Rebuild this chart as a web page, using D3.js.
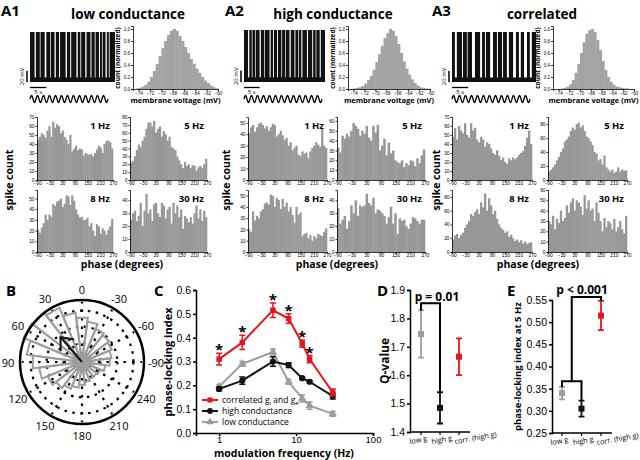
<!DOCTYPE html>
<meta charset="utf-8">
<style>
  body { margin: 0; background: #fff; }
  svg { font-family: "Open Sans", sans-serif; }
  .tag { font-weight: bold; font-size: 15px; }
  .ttl { font-weight: bold; font-size: 13.5px; }
  .blab { font-weight: bold; }
</style>
<body>
<svg id="fig" width="640" height="460"></svg>
<script src="https://cdn.jsdelivr.net/npm/d3@7/dist/d3.min.js"></script>
<script>
// ---------------- data ----------------
var traceDur = 26, stimCycles = 13;
var gapsA1 = [[1.4,0.4],[3.0,0.2],[4.5,0.5],[6.2,0.2],[7.5,0.4],[8.9,0.3],[10.9,0.4],[12.3,0.3],[14.2,0.4],[15.4,0.25],[16.9,0.4],[18.5,0.3],[19.8,0.25],[21.1,0.3],[22.0,0.2],[23.1,0.4],[24.1,0.25]];
var gapsA2 = [[1.3,0.4],[2.5,0.2],[3.6,0.15],[5.0,0.4],[6.5,0.15],[8.2,0.35],[9.3,0.3],[10.6,0.3],[12.0,0.15],[13.2,0.15],[14.6,0.4],[16.2,0.3],[17.4,0.15],[18.4,0.35],[20.2,0.35],[21.9,0.3],[23.0,0.15],[24.3,0.35]];
var gapsA3 = [[0.9,0.6],[3.1,0.3],[4.6,0.2],[6.2,0.9],[8.7,0.6],[10.2,0.3],[11.8,0.9],[13.9,0.3],[15.5,0.3],[17.0,0.6],[18.9,0.9],[20.7,0.6],[22.3,0.9],[24.1,0.6]];

var voltTicks = [-74,-72,-70,-68,-66,-64,-62,-60];
var vmA1 = [0,0.01,0.02,0.04,0.07,0.12,0.2,0.3,0.42,0.55,0.68,0.8,0.9,0.97,1.0,0.97,0.88,0.8,0.7,0.6,0.5,0.42,0.34,0.27,0.2,0.14,0.1,0.06,0.03,0.01];
var vmA2 = [0,0,0.01,0.02,0.03,0.05,0.09,0.15,0.22,0.32,0.45,0.58,0.72,0.85,0.93,1.0,0.97,0.88,0.75,0.6,0.46,0.34,0.24,0.16,0.1,0.06,0.03,0.02,0.01,0];
var vmA3 = [0,0,0,0.01,0.02,0.04,0.08,0.15,0.27,0.42,0.6,0.78,0.92,0.98,1.0,0.95,0.82,0.65,0.47,0.32,0.2,0.12,0.07,0.04,0.03,0.02,0.01,0.01,0,0];

var phaseTicks = [-90,-30,30,90,150,210,270];
var phA1_1 = [45,48,52,50,47,55,60,48,65,58,62,60,52,55,48,45,40,50,32,35,38,33,35,34,27,30,29,28,29,26,30,34,38,36,30,40,43,44,42,35];
var phA1_5 = [22,24,30,38,45,42,50,55,65,73,73,68,75,60,65,68,55,62,58,50,55,42,40,38,30,25,20,15,23,18,20,15,19,18,12,16,18,15,20,27];
var phA1_8 = [21,18,23,27,35,30,35,33,45,43,47,48,50,42,45,53,52,44,53,48,40,35,32,33,30,30,32,24,27,20,15,26,24,17,22,20,16,21,24,31];
var phA1_30 = [25,30,32,24,28,38,20,32,45,30,33,24,37,38,30,27,38,36,26,33,35,22,38,30,36,27,33,18,28,26,23,27,22,30,36,26,33,24,32,27];
var phA2_1 = [41,46,48,42,46,49,50,48,45,47,43,46,49,48,38,40,43,39,35,37,30,33,26,28,30,22,21,25,23,24,19,25,28,30,33,31,29,45,30,28];
var phA2_5 = [33,28,45,42,47,44,50,58,55,52,45,50,47,55,43,40,55,48,56,30,35,42,25,38,27,30,20,18,17,20,13,17,15,20,19,14,22,17,25,31];
var phA2_8 = [20,18,36,28,32,30,36,38,43,44,42,51,50,40,48,46,38,47,40,44,36,40,33,26,40,33,35,14,16,17,12,15,10,14,12,16,15,14,18,21];
var phA2_30 = [34,22,25,28,18,24,36,30,40,28,36,35,36,45,38,36,42,30,33,32,30,28,22,27,35,22,30,14,26,24,25,20,18,22,27,26,24,22,25,25];
var phA3_1 = [48,58,45,60,55,52,63,50,47,63,55,58,45,42,48,45,37,42,40,35,30,28,33,27,22,25,20,18,24,22,25,23,25,28,30,32,38,47,55,40];
var phA3_5 = [12,15,18,22,28,33,40,45,55,58,62,70,75,72,80,82,75,78,70,62,60,55,50,40,38,28,30,22,35,18,15,12,15,10,12,18,12,15,13,14];
var phA3_8 = [18,24,26,20,25,28,35,40,45,55,52,58,62,55,72,65,85,60,78,68,55,60,48,40,35,32,28,30,22,25,20,16,18,14,17,12,15,12,13,14];
var phA3_30 = [30,27,35,22,32,28,40,30,33,45,38,48,52,40,50,48,44,36,55,42,50,40,42,30,48,38,30,20,33,24,30,28,22,32,20,24,30,22,18,35];

var roseAngles = [0,15,30,45,60,75,90,105,120,135,150,165,180,195,210,225,240,255,270,285,300,315,330,345];
var roseVals = [0.72,0.8,0.95,1.0,1.02,0.9,0.8,0.7,0.6,0.53,0.47,0.42,0.37,0.33,0.3,0.3,0.32,0.38,0.45,0.48,0.52,0.55,0.58,0.66];
var arrowAngle = 41, arrowLen = 0.53;
var polarTicks = [0,30,60,90,120,150,180,210,240,270,300,330];

var freqs = [1,2,5,8,12,15,30];
var plvCorr = [0.31,0.38,0.515,0.48,0.375,0.31,0.17];
var plvCorrErr = [0.025,0.03,0.03,0.02,0.015,0.015,0.015];
var plvHigh = [0.185,0.22,0.30,0.285,0.23,0.215,0.155];
var plvHighErr = [0.008,0.015,0.02,0.01,0.005,0.005,0.012];
var plvLow = [0.195,0.29,0.34,0.215,0.145,0.115,0.08];
var plvLowErr = [0.008,0.01,0.012,0.01,0.015,0.015,0.01];
var starFreqs = [1,2,5,8,12,15];

var groups = ["low g","high g","corr. (high g)"];
var qVals = [1.745,1.485,1.665];
var qErr = [0.083,0.055,0.065];
var plv5Vals = [0.34,0.305,0.515];
var plv5Err = [0.014,0.018,0.033];

// ---------------- drawing ----------------
var svg = d3.select("#fig");
var red = "#e3161d", gray = "#9d9d9d", barGray = "#979797";

function styleAxis(g, fs, sw) {
  g.selectAll("text").style("font-size", fs + "px").attr("fill", "#000");
  g.selectAll("path,line").attr("stroke", "#000").attr("stroke-width", sw);
}

function trace(x0, x1, yTop, gaps) {
  var x = d3.scaleLinear().domain([0, traceDur]).range([x0, x1]);
  var y = d3.scaleLinear().domain([-70, 30]).range([82, yTop]);
  var g = svg.append("g");
  g.append("rect").attr("x", x0).attr("y", y(30)).attr("width", x1 - x0)
    .attr("height", y(-70) - y(30)).attr("fill", "#111");
  g.selectAll(".gap").data(gaps).join("rect").attr("class", "gap")
    .attr("x", d => x(d[0])).attr("y", y(30) - 1)
    .attr("width", d => Math.max(0.7, x(d[0] + d[1]) - x(d[0])))
    .attr("height", y(-61) - y(30) + 1).attr("fill", "#fff");
  g.append("line").attr("x1", x0 - 3).attr("x2", x0 - 3).attr("y1", y(-70)).attr("y2", y(-48))
    .attr("stroke", "#000").attr("stroke-width", 1.5);
  g.append("text").attr("transform", "translate(" + (x0 - 6) + "," + y(-59) + ") rotate(-90)")
    .attr("text-anchor", "middle").style("font-size", "6px").text("20 mV");
  g.append("line").attr("x1", x(0)).attr("x2", x(5)).attr("y1", 87.5).attr("y2", 87.5)
    .attr("stroke", "#000").attr("stroke-width", 1.3);
  g.append("text").attr("x", x(2.5)).attr("y", 93.5).attr("text-anchor", "middle")
    .style("font-size", "6px").text("5 s");
  var sx = d3.scaleLinear().domain([0, stimCycles]).range([x0, x0 + 78]);
  g.append("path")
    .attr("d", d3.line().x(c => sx(c)).y(c => 99 - 3.5 * Math.sin(2 * Math.PI * c))(d3.range(0, stimCycles + 0.001, 0.05)))
    .attr("fill", "none").attr("stroke", "#000").attr("stroke-width", 1.3);
}

function vmHist(x0, x1, vals) {
  var x = d3.scaleLinear().domain([-75, -60]).range([x0, x1]);
  var y = d3.scaleLinear().domain([0, 1.05]).range([89, 26]);
  var w = 15 / vals.length;
  var g = svg.append("g");
  g.selectAll("rect").data(vals).join("rect")
    .attr("x", (d, i) => x(-75 + i * w)).attr("width", x(w) - x(0) + 0.4)
    .attr("y", d => y(d)).attr("height", d => y(0) - y(d)).attr("fill", "#a3a3a3");
  var ax = g.append("g").attr("transform", "translate(0,89)")
    .call(d3.axisBottom(x).tickValues(voltTicks).tickSize(2).tickPadding(0.5));
  styleAxis(ax, 4.5, 0.8);
  var ay = g.append("g").attr("transform", "translate(" + x0 + ",0)")
    .call(d3.axisLeft(y).tickValues([0, 0.2, 0.4, 0.6, 0.8, 1]).tickFormat(d3.format(".1f")).tickSize(2).tickPadding(1));
  styleAxis(ay, 4.5, 0.8);
  g.append("text").attr("x", (x0 + x1) / 2).attr("y", 102.5).attr("text-anchor", "middle")
    .attr("class", "blab").style("font-size", "7.5px").text("membrane voltage (mV)");
  g.append("text").attr("transform", "translate(" + (x0 - 13.5) + ",58) rotate(-90)")
    .attr("text-anchor", "middle").attr("class", "blab").style("font-size", "6.5px").text("count (normalized)");
}

function phaseHist(x0, x1, y0, y1, vals, ymax, step, label) {
  var x = d3.scaleLinear().domain([-90, 270]).range([x0, x1]);
  var y = d3.scaleLinear().domain([0, ymax]).range([y1, y0]);
  var w = 360 / vals.length;
  var g = svg.append("g");
  g.selectAll("rect").data(vals).join("rect")
    .attr("x", (d, i) => x(-90 + i * w)).attr("width", x(w) - x(0) + 0.3)
    .attr("y", d => y(d)).attr("height", d => y(0) - y(d)).attr("fill", barGray);
  var ax = g.append("g").attr("transform", "translate(0," + y1 + ")")
    .call(d3.axisBottom(x).tickValues(phaseTicks).tickSize(1.5).tickPadding(0.5));
  styleAxis(ax, 4.8, 0.8);
  var ay = g.append("g").attr("transform", "translate(" + x0 + ",0)")
    .call(d3.axisLeft(y).tickValues(d3.range(0, ymax + 0.01, step)).tickSize(1.5).tickPadding(1));
  styleAxis(ay, 4.8, 0.8);
  g.append("text").attr("x", x1 - 3).attr("y", y0 + 12).attr("text-anchor", "end")
    .attr("class", "blab").style("font-size", "9.5px").text(label);
}

var topPanels = [
  {tag: "A1", tagX: 1, title: "low conductance", titleX: 128, trace: [30, 115], yTop: 32, gaps: gapsA1, hist: [133, 218], vm: vmA1,
   left: [37, 113], right: [130, 207], ylabX: 13, xlabX: 122,
   hists: [[phA1_1, 70, 10, "1 Hz"], [phA1_5, 80, 10, "5 Hz"], [phA1_8, 58, 10, "8 Hz"], [phA1_30, 48, 10, "30 Hz"]]},
  {tag: "A2", tagX: 225, title: "high conductance", titleX: 333, trace: [244, 325], yTop: 30, gaps: gapsA2, hist: [348, 430], vm: vmA2,
   left: [248, 327], right: [337, 425], ylabX: 230, xlabX: 337,
   hists: [[phA2_1, 55, 10, "1 Hz"], [phA2_5, 64, 10, "5 Hz"], [phA2_8, 55, 10, "8 Hz"], [phA2_30, 48, 10, "30 Hz"]]},
  {tag: "A3", tagX: 432, title: "correlated", titleX: 542, trace: [452, 536], yTop: 32, gaps: gapsA3, hist: [553, 634], vm: vmA3,
   left: [452, 532], right: [548, 627], ylabX: 440, xlabX: 538,
   hists: [[phA3_1, 70, 10, "1 Hz"], [phA3_5, 90, 20, "5 Hz"], [phA3_8, 90, 20, "8 Hz"], [phA3_30, 60, 10, "30 Hz"]]}
];
var rowUp = [117, 180], rowDn = [190, 252];

topPanels.forEach(function (p) {
  svg.append("text").attr("class", "tag").attr("x", p.tagX).attr("y", 16).text(p.tag);
  svg.append("text").attr("class", "ttl").attr("x", p.titleX).attr("y", 19).attr("text-anchor", "middle").text(p.title);
  trace(p.trace[0], p.trace[1], p.yTop, p.gaps);
  vmHist(p.hist[0], p.hist[1], p.vm);
  var slots = [[p.left, rowUp], [p.right, rowUp], [p.left, rowDn], [p.right, rowDn]];
  p.hists.forEach(function (h, i) {
    var s = slots[i];
    phaseHist(s[0][0], s[0][1], s[1][0], s[1][1], h[0], h[1], h[2], h[3]);
  });
  svg.append("text").attr("transform", "translate(" + p.ylabX + ",180) rotate(-90)")
    .attr("text-anchor", "middle").attr("class", "blab").style("font-size", "10.5px").text("spike count");
  svg.append("text").attr("x", p.xlabX).attr("y", 268).attr("text-anchor", "middle")
    .attr("class", "blab").style("font-size", "10.5px").text("phase (degrees)");
});

// ---------------- B: polar ----------------
var bcx = 82, bcy = 362, bR = 62;
var rr = d3.scaleLinear().domain([0, 1]).range([0, bR]);
function polar(deg, r) { var a = deg * Math.PI / 180; return [bcx - r * Math.sin(a), bcy - r * Math.cos(a)]; }
var gB = svg.append("g");
[0.3, 0.57, 0.83].forEach(function (f) {
  gB.append("circle").attr("cx", bcx).attr("cy", bcy).attr("r", rr(f)).attr("fill", "none")
    .attr("stroke", "#000").attr("stroke-width", 2.2).attr("stroke-dasharray", "2.5,5.5");
});
gB.selectAll(".spoke").data(polarTicks).join("line").attr("class", "spoke")
  .attr("x1", d => polar(d, rr(0.12))[0]).attr("y1", d => polar(d, rr(0.12))[1])
  .attr("x2", d => polar(d, rr(0.97))[0]).attr("y2", d => polar(d, rr(0.97))[1])
  .attr("stroke", "#000").attr("stroke-width", 2.2).attr("stroke-dasharray", "2.5,6");
gB.selectAll(".rose").data(roseAngles).join("path").attr("class", "rose")
  .attr("d", (d, i) => "M" + bcx + "," + bcy + "L" + polar(d - 7.5, rr(roseVals[i])) + "L" + polar(d + 7.5, rr(roseVals[i])) + "Z")
  .attr("fill", "none").attr("stroke", gray).attr("stroke-width", 2).attr("stroke-linejoin", "miter");
gB.append("circle").attr("cx", bcx).attr("cy", bcy).attr("r", bR).attr("fill", "none")
  .attr("stroke", "#000").attr("stroke-width", 2.5);
var tip = polar(arrowAngle, rr(arrowLen));
gB.append("line").attr("x1", bcx).attr("y1", bcy).attr("x2", tip[0]).attr("y2", tip[1])
  .attr("stroke", "#111").attr("stroke-width", 2);
var h1 = polar(arrowAngle - 22, rr(arrowLen) - 9), h2 = polar(arrowAngle + 22, rr(arrowLen) - 9);
gB.append("path").attr("d", "M" + h1 + "L" + tip + "L" + h2).attr("fill", "none")
  .attr("stroke", "#111").attr("stroke-width", 2);
gB.selectAll(".plab").data(polarTicks).join("text").attr("class", "plab")
  .attr("x", d => polar(d, bR + 12)[0]).attr("y", d => polar(d, bR + 11)[1])
  .attr("text-anchor", "middle").attr("dominant-baseline", "central").style("font-size", "11px")
  .text(d => d > 240 ? d - 360 : d);

// ---------------- C: phase locking vs frequency ----------------
var cx = d3.scaleLog().domain([0.5, 100]).range([196, 373]);
var cy = d3.scaleLinear().domain([0, 0.6]).range([433, 290]);
var gC = svg.append("g");
var cax = gC.append("g").attr("transform", "translate(0,433)")
  .call(d3.axisBottom(cx).tickValues([1, 10, 100]).tickFormat(d3.format("d")).tickSize(3).tickPadding(0));
styleAxis(cax, 9.5, 1.5);
var cay = gC.append("g").attr("transform", "translate(196,0)")
  .call(d3.axisLeft(cy).tickValues([0, 0.1, 0.2, 0.3, 0.4, 0.5, 0.6]).tickFormat(d3.format(".1f")).tickSize(3).tickPadding(2));
styleAxis(cay, 10.5, 1.5);

function series(vals, errs, color, shape) {
  var g = gC.append("g");
  g.append("path").attr("d", d3.line().x((d, i) => cx(freqs[i])).y(d => cy(d))(vals))
    .attr("fill", "none").attr("stroke", color).attr("stroke-width", 2);
  vals.forEach(function (v, i) {
    var x = cx(freqs[i]);
    g.append("path").attr("d", "M" + x + "," + cy(v - errs[i]) + "V" + cy(v + errs[i]) +
      "M" + (x - 3) + "," + cy(v - errs[i]) + "h6M" + (x - 3) + "," + cy(v + errs[i]) + "h6")
      .attr("stroke", color).attr("stroke-width", 1.5).attr("fill", "none");
  });
  g.selectAll(".mk").data(vals).join("path").attr("class", "mk")
    .attr("transform", (d, i) => "translate(" + cx(freqs[i]) + "," + cy(d) + ")")
    .attr("d", d3.symbol().type(shape).size(30)).attr("fill", color);
}
series(plvLow, plvLowErr, gray, d3.symbolTriangle);
series(plvHigh, plvHighErr, "#111", d3.symbolCircle);
series(plvCorr, plvCorrErr, red, d3.symbolSquare);
gC.selectAll(".star").data(starFreqs).join("text").attr("class", "star")
  .attr("x", d => cx(d)).attr("y", d => cy(plvCorr[freqs.indexOf(d)] + plvCorrErr[freqs.indexOf(d)]) + 2)
  .attr("text-anchor", "middle").style("font-size", "15px").style("font-weight", "bold").text("*");

var legend = [
  {color: red, shape: d3.symbolSquare, y: 400},
  {color: "#111", shape: d3.symbolCircle, y: 411, text: "high conductance"},
  {color: gray, shape: d3.symbolTriangle, y: 422, text: "low conductance"}
];
legend.forEach(function (l) {
  gC.append("line").attr("x1", 202).attr("x2", 218).attr("y1", l.y).attr("y2", l.y)
    .attr("stroke", l.color).attr("stroke-width", 2);
  gC.append("path").attr("transform", "translate(210," + l.y + ")").attr("d", d3.symbol().type(l.shape).size(26)).attr("fill", l.color);
  var t = gC.append("text").attr("x", 222).attr("y", l.y + 3).style("font-size", "8.5px");
  if (l.text) t.text(l.text);
  else {
    t.append("tspan").text("correlated g");
    t.append("tspan").attr("dy", 2).style("font-size", "6px").text("i");
    t.append("tspan").attr("dy", -2).text(" and g");
    t.append("tspan").attr("dy", 2).style("font-size", "6px").text("e");
  }
});
gC.append("text").attr("transform", "translate(172,362) rotate(-90)").attr("text-anchor", "middle")
  .attr("class", "blab").style("font-size", "11px").text("phase-locking index");
gC.append("text").attr("x", 284).attr("y", 457).attr("text-anchor", "middle")
  .attr("class", "blab").style("font-size", "10.5px").text("modulation frequency (Hz)");

// ---------------- D and E: group comparisons ----------------
var groupColors = [gray, "#111", red];
var labShift = [-11, -8, -4];
function groupPanel(xr, axisX, yScale, yTicks, fmt, vals, errs, ylab, ylabX, fs) {
  var x = d3.scalePoint().domain(groups).range(xr);
  var g = svg.append("g");
  var ay = g.append("g").attr("transform", "translate(" + axisX + ",0)")
    .call(d3.axisLeft(yScale).tickValues(yTicks).tickFormat(d3.format(fmt)).tickSize(3).tickPadding(2));
  styleAxis(ay, 10.5, 1.5);
  var y0 = yScale.range()[0];
  g.append("line").attr("x1", axisX).attr("x2", xr[1] + 11).attr("y1", y0).attr("y2", y0)
    .attr("stroke", "#000").attr("stroke-width", 1.5);
  groups.forEach(function (grp, i) {
    var xx = x(grp), c = groupColors[i];
    g.append("line").attr("x1", xx).attr("x2", xx).attr("y1", y0).attr("y2", y0 + 3).attr("stroke", "#000").attr("stroke-width", 1.2);
    g.append("path").attr("d", "M" + xx + "," + yScale(vals[i] - errs[i]) + "V" + yScale(vals[i] + errs[i]) +
      "M" + (xx - 3) + "," + yScale(vals[i] - errs[i]) + "h6M" + (xx - 3) + "," + yScale(vals[i] + errs[i]) + "h6")
      .attr("stroke", c).attr("stroke-width", 1.8).attr("fill", "none");
    g.append("rect").attr("x", xx - 3).attr("y", yScale(vals[i]) - 3).attr("width", 6).attr("height", 6).attr("fill", c);
    g.append("text").attr("transform", "translate(" + (xx + labShift[i]) + "," + (y0 + 12) + ") rotate(-10)")
      .style("font-size", "7.3px").text(grp);
  });
  g.append("text").attr("transform", "translate(" + ylabX + "," + (yScale.range()[0] + yScale.range()[1]) / 2 + ") rotate(-90)")
    .attr("text-anchor", "middle").attr("class", "blab").style("font-size", fs + "px").text(ylab);
  return {g: g, x: x};
}

var dy = d3.scaleLinear().domain([1.4, 1.9]).range([432, 290]);
var D = groupPanel([421, 459], 410, dy, [1.4, 1.5, 1.6, 1.7, 1.8, 1.9], ".1f", qVals, qErr, "Q-value", 389, 12);
var dl = D.x(groups[0]), dh = D.x(groups[1]);
D.g.append("path").attr("d", "M" + dl + "," + dy(qVals[0] + qErr[0]) + "V" + dy(1.853) + "H" + dh + "V" + dy(qVals[1] + qErr[1]))
  .attr("fill", "none").attr("stroke", "#000").attr("stroke-width", 2);
D.g.append("text").attr("x", 437).attr("y", 301).attr("text-anchor", "middle").attr("class", "blab")
  .style("font-size", "12px").text("p = 0.01");

var ey = d3.scaleLinear().domain([0.25, 0.55]).range([433, 300]);
var E = groupPanel([562, 601], 552, ey, [0.25, 0.3, 0.35, 0.4, 0.45, 0.5, 0.55], ".2f", plv5Vals, plv5Err, "phase-locking index at 5 Hz", 521, 9.5);
var el = E.x(groups[0]), eh = E.x(groups[1]), ec = E.x(groups[2]);
E.g.append("path").attr("d", "M" + el + "," + ey(plv5Vals[0] + plv5Err[0]) + "V" + ey(0.367) + "H" + eh + "V" + ey(plv5Vals[1] + plv5Err[1]) +
  "M" + (el + eh) / 2 + "," + ey(0.367) + "V297H" + ec + "V" + ey(plv5Vals[2] + plv5Err[2]))
  .attr("fill", "none").attr("stroke", "#000").attr("stroke-width", 2);
E.g.append("text").attr("x", 582).attr("y", 294).attr("text-anchor", "middle").attr("class", "blab")
  .style("font-size", "12px").text("p < 0.001");

// panel letters
[["B", 6], ["C", 154], ["D", 377], ["E", 507]].forEach(function (t) {
  svg.append("text").attr("class", "tag").attr("x", t[1]).attr("y", 296).text(t[0]);
});
</script>
